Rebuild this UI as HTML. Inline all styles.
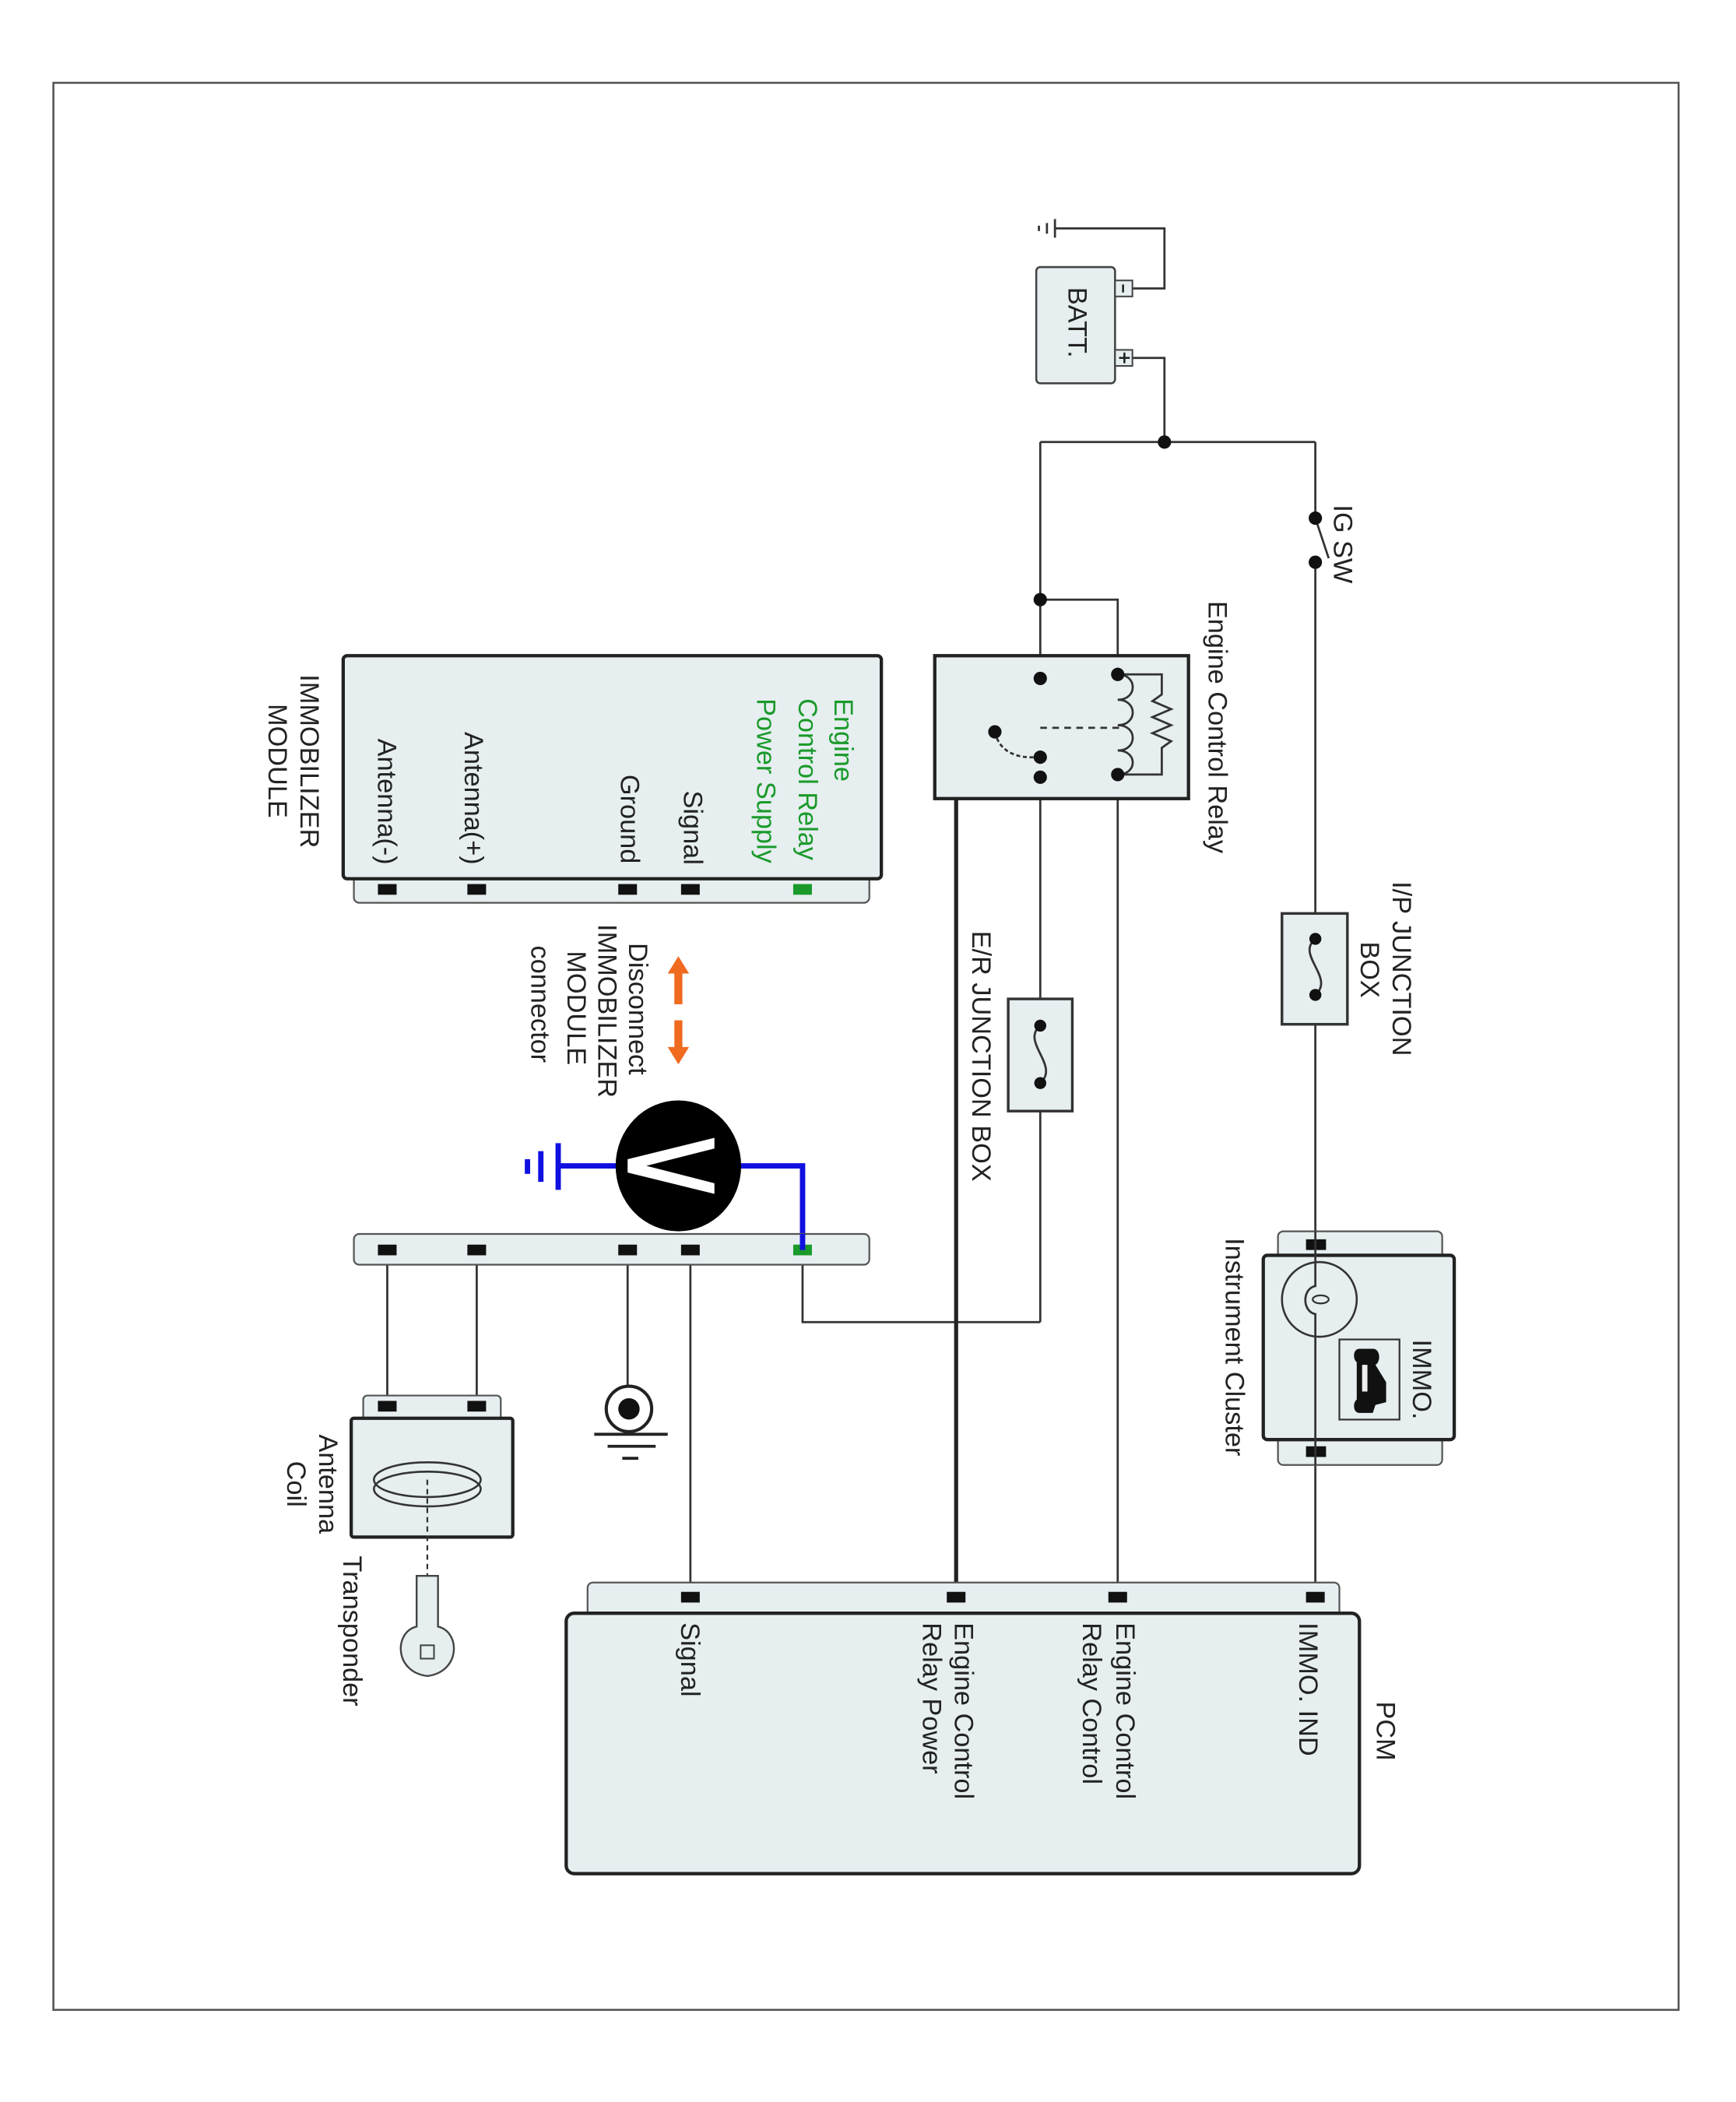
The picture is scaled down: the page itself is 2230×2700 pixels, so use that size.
<!DOCTYPE html>
<html><head><meta charset="utf-8"><style>
html,body{margin:0;padding:0;background:#fff;}
svg{display:block;}
text{font-family:"Liberation Sans",sans-serif;font-size:20px;fill:#222;}
</style></head><body>
<svg width="2230" height="2700" viewBox="0 0 1300 1574" preserveAspectRatio="none" xmlns="http://www.w3.org/2000/svg">
<rect x="0" y="0" width="1300" height="1574" fill="#fff"/>
<rect x="40" y="62" width="1217" height="1443" fill="none" stroke="#555" stroke-width="1.5"/>

<g stroke="#333" stroke-width="1.6" fill="none">
<polyline points="790,171 872,171 872,216 848,216"/>
<line x1="790" y1="164" x2="790" y2="178"/><line x1="784" y1="167" x2="784" y2="175"/><line x1="778" y1="169" x2="778" y2="173"/>
<polyline points="848,268 872,268 872,331"/>
<line x1="779" y1="331" x2="985" y2="331"/>
<line x1="985" y1="331" x2="985" y2="388"/>
<line x1="985" y1="388" x2="995" y2="418"/>
<line x1="985" y1="421" x2="985" y2="932"/>
<line x1="985" y1="932" x2="985" y2="1196"/>
<line x1="779" y1="331" x2="779" y2="990"/>
<polyline points="779,990 601,990 601,940"/>
<polyline points="779,449 837,449 837,1196"/>
<line x1="517" y1="940" x2="517" y2="1196"/>
<line x1="470" y1="940" x2="470" y2="1038"/>
<line x1="357" y1="940" x2="357" y2="1053"/>
<line x1="290" y1="940" x2="290" y2="1053"/>
</g>
<polyline points="779,582 716,582 716,1196" stroke="#222" stroke-width="3" fill="none"/>

<!-- battery -->
<rect x="776" y="200" width="59" height="87" rx="3" fill="#e6eef0" stroke="#444" stroke-width="1.5"/>
<rect x="835" y="210" width="13" height="12" fill="#e6eef0" stroke="#444" stroke-width="1.2"/>
<rect x="835" y="262" width="13" height="12" fill="#e6eef0" stroke="#444" stroke-width="1.2"/>
<text transform="translate(800,215) rotate(90)" font-size="22">BATT.</text>
<line x1="841" y1="213" x2="841" y2="219" stroke="#222" stroke-width="1.5"/>
<line x1="838" y1="268" x2="846" y2="268" stroke="#222" stroke-width="1.5"/>
<line x1="842" y1="264" x2="842" y2="272" stroke="#222" stroke-width="1.5"/>

<g fill="#111">
<circle cx="872" cy="331" r="5"/><circle cx="985" cy="388" r="5"/><circle cx="985" cy="421" r="5"/>
<circle cx="779" cy="449" r="5"/>
</g>
<text transform="translate(999,378) rotate(90)">IG SW</text>

<rect x="960" y="684" width="49" height="83" fill="#e6eef0" stroke="#333" stroke-width="2"/>
<path d="M985,703 C970,715 1000,732 985,745" stroke="#333" stroke-width="1.6" fill="none"/>
<circle cx="985" cy="703" r="4.5" fill="#111"/><circle cx="985" cy="745" r="4.5" fill="#111"/>
<text transform="translate(1043,660) rotate(90)">I/P JUNCTION</text>
<text transform="translate(1019,705) rotate(90)">BOX</text>

<!-- Instrument cluster -->
<rect x="957" y="922" width="123" height="175" rx="4" fill="#e6eef0" stroke="#555" stroke-width="1.3"/>
<rect x="946" y="940" width="143" height="138" rx="3" fill="#e6eef0" stroke="#222" stroke-width="2.5"/>
<rect x="978" y="928" width="15" height="8" fill="#111"/><rect x="978" y="1083" width="15" height="8" fill="#111"/>
<circle cx="988" cy="973" r="28" fill="none" stroke="#333" stroke-width="1.5"/>
<path d="M985,922 L985,963 C975,965 975,982 985,984 L985,1097" stroke="#333" stroke-width="1.6" fill="none"/>
<ellipse cx="989" cy="973" rx="6" ry="3" fill="none" stroke="#333" stroke-width="1.3"/>
<rect x="1003" y="1003" width="45" height="60" fill="none" stroke="#333" stroke-width="1.3"/>
<path d="M1018,1010 L1028,1010 C1034,1010 1034,1020 1030,1022 L1038,1035 L1038,1050 L1030,1052 L1028,1058 L1018,1058 C1013,1058 1013,1050 1016,1048 L1016,1020 C1013,1018 1013,1010 1018,1010 Z" fill="#111"/>
<rect x="1020" y="1022" width="4" height="20" fill="#eee"/>
<text transform="translate(1058,1003) rotate(90)">IMMO.</text>
<text transform="translate(918,927) rotate(90)">Instrument Cluster</text>

<!-- Engine control relay -->
<rect x="700" y="491" width="190" height="107" fill="#e6eef0" stroke="#222" stroke-width="2.5"/>
<g stroke="#333" stroke-width="1.6" fill="none">
<path d="M837,505 C852,505 852,524 837,524 C852,524 852,543 837,543 C852,543 852,562 837,562 C852,562 852,580 837,580"/>
<polyline points="837,505 870,505 870,520 863,525 877,531 863,537 877,543 863,549 877,555 870,560 870,580 837,580"/>
<line x1="779" y1="545" x2="842" y2="545" stroke-dasharray="5,4"/>
<path d="M745,548 C748,562 760,568 776,567" stroke-dasharray="3,2"/>
</g>
<g fill="#111">
<circle cx="779" cy="508" r="5"/><circle cx="837" cy="505" r="5"/><circle cx="779" cy="567" r="5"/>
<circle cx="779" cy="582" r="5"/><circle cx="837" cy="580" r="5"/><circle cx="745" cy="548" r="5"/>
</g>
<text transform="translate(905,450) rotate(90)">Engine Control Relay</text>

<rect x="755" y="748" width="48" height="84" fill="#e6eef0" stroke="#333" stroke-width="2"/>
<path d="M779,768 C764,780 794,798 779,811" stroke="#333" stroke-width="1.6" fill="none"/>
<circle cx="779" cy="768" r="4.5" fill="#111"/><circle cx="779" cy="811" r="4.5" fill="#111"/>
<text transform="translate(728,697) rotate(90)">E/R JUNCTION BOX</text>

<!-- Immobilizer module -->
<rect x="265" y="650" width="386" height="26" rx="4" fill="#e6eef0" stroke="#555" stroke-width="1.3"/>
<rect x="257" y="491" width="403" height="167" rx="3" fill="#e6eef0" stroke="#222" stroke-width="2.5"/>
<rect x="594" y="662" width="14" height="8" fill="#1a9a2a"/>
<rect x="510" y="662" width="14" height="8" fill="#111"/>
<rect x="463" y="662" width="14" height="8" fill="#111"/>
<rect x="350" y="662" width="14" height="8" fill="#111"/>
<rect x="283" y="662" width="14" height="8" fill="#111"/>
<text transform="translate(625,523) rotate(90)" style="fill:#1a9a2a">Engine</text>
<text transform="translate(598,523) rotate(90)" style="fill:#1a9a2a">Control Relay</text>
<text transform="translate(567,523) rotate(90)" style="fill:#1a9a2a">Power Supply</text>
<text transform="translate(512,592) rotate(90)">Signal</text>
<text transform="translate(465,580) rotate(90)">Ground</text>
<text transform="translate(348,548) rotate(90)">Antenna(+)</text>
<text transform="translate(283,553) rotate(90)">Antenna(-)</text>
<text transform="translate(225,505) rotate(90)">IMMOBILIZER</text>
<text transform="translate(201,527) rotate(90)">MODULE</text>

<g fill="#f06a20">
<polygon points="508,716 500,729 516,729"/><rect x="505" y="728" width="6" height="24"/>
<rect x="505" y="764" width="6" height="22"/><polygon points="508,797 500,784 516,784"/>
</g>
<text transform="translate(471,706) rotate(90)">Disconnect</text>
<text transform="translate(448,692) rotate(90)">IMMOBILIZER</text>
<text transform="translate(425,712) rotate(90)">MODULE</text>
<text transform="translate(398,708) rotate(90)">connector</text>

<polyline points="601,936 601,873 554,873" stroke="#1010e0" stroke-width="4" fill="none"/>
<line x1="462" y1="873" x2="418" y2="873" stroke="#1010e0" stroke-width="4"/>
<line x1="418" y1="856" x2="418" y2="891" stroke="#1010e0" stroke-width="4"/>
<line x1="405" y1="862" x2="405" y2="885" stroke="#1010e0" stroke-width="4"/>
<line x1="395" y1="868" x2="395" y2="879" stroke="#1010e0" stroke-width="4"/>
<ellipse cx="508" cy="873" rx="47" ry="49" fill="#000"/>
<polygon points="535,852 535,860 484,873 535,886 535,894 470,878 470,868" fill="#fff"/>

<rect x="265" y="924" width="386" height="23" rx="4" fill="#e6eef0" stroke="#555" stroke-width="1.3"/>
<rect x="594" y="932" width="14" height="8" fill="#1a9a2a"/>
<line x1="601" y1="924" x2="601" y2="936" stroke="#1010e0" stroke-width="4"/>
<rect x="510" y="932" width="14" height="8" fill="#111"/>
<rect x="463" y="932" width="14" height="8" fill="#111"/>
<rect x="350" y="932" width="14" height="8" fill="#111"/>
<rect x="283" y="932" width="14" height="8" fill="#111"/>

<!-- ground symbol -->
<circle cx="471" cy="1055" r="17" fill="#fff" stroke="#222" stroke-width="2.4"/>
<circle cx="471" cy="1055" r="8" fill="#111"/>
<line x1="445" y1="1074" x2="500" y2="1074" stroke="#222" stroke-width="2.2"/>
<line x1="455" y1="1083" x2="491" y2="1083" stroke="#222" stroke-width="2.2"/>
<line x1="466" y1="1092" x2="478" y2="1092" stroke="#222" stroke-width="2.2"/>

<!-- antenna coil -->
<rect x="272" y="1045" width="103" height="20" rx="3" fill="#e6eef0" stroke="#555" stroke-width="1.3"/>
<rect x="263" y="1062" width="121" height="89" rx="2" fill="#e6eef0" stroke="#222" stroke-width="2.5"/>
<rect x="283" y="1049" width="14" height="8" fill="#111"/><rect x="350" y="1049" width="14" height="8" fill="#111"/>
<ellipse cx="320" cy="1108" rx="40" ry="13" fill="none" stroke="#333" stroke-width="1.5"/>
<ellipse cx="320" cy="1115" rx="40" ry="13" fill="none" stroke="#333" stroke-width="1.5"/>
<line x1="320" y1="1108" x2="320" y2="1180" stroke="#333" stroke-width="1.3" stroke-dasharray="4,3"/>
<path d="M312,1180 L328,1180 L328,1218 C345,1222 345,1252 320,1255 C295,1252 295,1222 312,1218 Z" fill="#e6eef0" stroke="#444" stroke-width="1.4"/>
<rect x="315" y="1232" width="10" height="10" fill="none" stroke="#444" stroke-width="1.2"/>
<text transform="translate(239,1074) rotate(90)">Antenna</text>
<text transform="translate(215,1094) rotate(90)">Coil</text>
<text transform="translate(257,1165) rotate(90)">Transponder</text>

<!-- PCM -->
<rect x="440" y="1185" width="563" height="30" rx="4" fill="#e6eef0" stroke="#555" stroke-width="1.3"/>
<rect x="424" y="1208" width="594" height="195" rx="6" fill="#e6eef0" stroke="#222" stroke-width="2.5"/>
<rect x="510" y="1192" width="14" height="8" fill="#111"/>
<rect x="709" y="1192" width="14" height="8" fill="#111"/>
<rect x="830" y="1192" width="14" height="8" fill="#111"/>
<rect x="978" y="1192" width="14" height="8" fill="#111"/>
<text transform="translate(1031,1274) rotate(90)">PCM</text>
<text transform="translate(973,1215) rotate(90)">IMMO. IND</text>
<text transform="translate(836,1215) rotate(90)">Engine Control</text>
<text transform="translate(811,1215) rotate(90)">Relay Control</text>
<text transform="translate(715,1215) rotate(90)">Engine Control</text>
<text transform="translate(691,1215) rotate(90)">Relay Power</text>
<text transform="translate(510,1215) rotate(90)">Signal</text>
</svg>
</body></html>
